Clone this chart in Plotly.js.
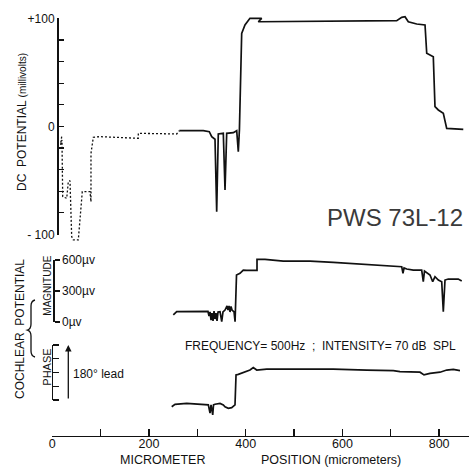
<!DOCTYPE html>
<html>
<head>
<meta charset="utf-8">
<script src="https://cdn.plot.ly/plotly-3.0.1.min.js"></script>
<style>html,body{margin:0;padding:0;background:#fff}#chart{width:469px;height:469px}</style>
</head>
<body>
<div id="chart"></div>
<script>
// ---- Data (micrometer position in µm) ----
// DC potential, dashed part (mV)
const dcDashedX = [19.4, 17, 20, 21.5, 29.8, 33.1, 36.6, 40.1, 43.4, 53.8, 62, 78, 80, 80, 81, 80, 84.8, 98.7, 177.9, 177.9, 257.3, 262.7];
const dcDashedY = [-9.5, -17, -12.6, -65, -66.5, -51.2, -50.2, -102, -105, -105, -60.4, -60.4, -69.7, -31, -40, -25, -10.1, -9.5, -11, -6.4, -7, -4];
// DC potential, solid part (mV)
const dcX = [262.7, 312.3, 324.7, 329.7, 336.5, 340, 343.3, 353.7, 357.2, 360.7, 374.4, 381.4, 384.7, 387, 391.7, 398.5, 408.8, 433.1, 426.1, 574.4, 712.3, 722.7, 729.5, 736.3, 753.7, 770.9, 774.4, 788, 791.5, 798.4, 808.7, 815.7, 850];
const dcY = [-4, -4, -4.9, -9.5, -11.9, -78.9, -7, -6.4, -58.8, -6.4, -5.8, -4, -23.4, -3.3, 86.1, 93.8, 100, 100, 96.8, 97.5, 97.8, 100.9, 101.5, 96.8, 94.7, 93.8, 67.6, 64.5, 18.2, 15.2, 12.1, -1.8, -2.7];
// Cochlear potential magnitude (µV)
const magX = [250.3, 257.3, 322, 324.1, 326.2, 328.3, 330.3, 332.4, 334.5, 336.6, 338.6, 340.7, 342.8, 346.9, 350.4, 353, 357.2, 361.4, 363.4, 365.5, 367.6, 369.6, 371.7, 375.9, 378, 381, 388.2, 395, 402.1, 423.4, 423.4, 439.9, 477.8, 533, 581.2, 615.7, 650.3, 684.6, 722.7, 725.3, 727.5, 733, 746.7, 764, 767.3, 769.8, 781.2, 786.8, 791.5, 798.4, 805.4, 808.7, 812.2, 819, 839.7, 846.8];
const magY = [68, 100, 102, 58, 97, 19, 87, 10, 106, 29, 87, 10, 97, 100, 3, 97, 116, 155, 116, 155, 97, 150, 116, 97, 3, 455, 471, 503, 500, 500, 607, 607, 590, 590, 578, 568, 558, 545, 535, 471, 523, 513, 503, 503, 390, 494, 455, 390, 438, 406, 390, 100, 406, 416, 416, 397];
// Cochlear potential phase (degrees, lead)
const phX = [247, 253.8, 278, 312.3, 322.7, 326.2, 328.3, 331.8, 333.4, 336.5, 346.9, 353.7, 357.2, 364, 371, 377.9, 380, 384.7, 395, 408.9, 415.7, 422.8, 443.4, 512.3, 581.2, 650.3, 705.3, 719.1, 760.5, 768.8, 781.2, 801.9, 815.7, 829.4, 843.2];
const phY = [-22, -14, -11, -14, -16, -43, -16, -49, -16, -14, -11, -16, -22, -27, -25, -16, 82, 84, 91, 98, 106, 98, 101, 101, 101, 98, 96, 93, 91, 82, 87, 91, 98, 100, 96];
// Tick labels
const xTickVals = [0, 100, 200, 300, 400, 500, 600, 700, 800];
const xTickText = ['0', '', '200', '', '400', '', '600', '', '800'];
const dcTickVals = [-100, -80, -60, -40, -20, 0, 20, 40, 60, 80, 100];
const dcTickText = ['- 100', '', '', '', '', '0', '', '', '', '', '+100'];
const magTickVals = [0, 300, 600];
const magTickText = ['0µv', '300µv', '600µv'];
const phTickVals = [0, 45, 90, 135, 180];

// ---- Layout helpers (pixel -> paper) ----
const W = 469, H = 469;
const fx = p => p / W;
const fy = p => 1 - p / H;
const FONT = 'Liberation Sans, Arial, sans-serif';
const INK = '#111';

const lineStyle = {color: INK, width: 1.7};
const traces = [
  {x: dcDashedX, y: dcDashedY, xaxis: 'x', yaxis: 'y', mode: 'lines', line: {color: INK, width: 1.3, dash: '2px,2px'}, hoverinfo: 'skip'},
  {x: dcX, y: dcY, xaxis: 'x', yaxis: 'y', mode: 'lines', line: lineStyle, hoverinfo: 'skip'},
  {x: magX, y: magY, xaxis: 'x', yaxis: 'y2', mode: 'lines', line: lineStyle, hoverinfo: 'skip'},
  {x: phX, y: phY, xaxis: 'x', yaxis: 'y3', mode: 'lines', line: lineStyle, hoverinfo: 'skip'},
  {x: [], y: [], xaxis: 'x', yaxis: 'y4', mode: 'lines', hoverinfo: 'skip'},
  {x: [], y: [], xaxis: 'x', yaxis: 'y5', mode: 'lines', hoverinfo: 'skip'},
  {x: [], y: [], xaxis: 'x', yaxis: 'y6', mode: 'lines', hoverinfo: 'skip'}
];

const hidden = {showline: false, showgrid: false, zeroline: false, showticklabels: false, ticks: '', anchor: 'free', position: 0.12};
const pxRange = (p0, p1, v0px, scale) => [(v0px - p1) / scale, (v0px - p0) / scale];

function ann(text, x, y, size, extra) {
  return Object.assign({text: text, x: fx(x), y: fy(y), xref: 'paper', yref: 'paper', showarrow: false,
    xanchor: 'center', yanchor: 'middle', font: {size: size, family: FONT, color: INK}}, extra || {});
}

const layout = {
  width: W, height: H,
  margin: {l: 0, r: 0, t: 0, b: 0},
  paper_bgcolor: '#fff', plot_bgcolor: 'rgba(0,0,0,0)',
  showlegend: false,
  font: {family: FONT, color: INK},
  xaxis: {
    domain: [fx(52.3), 1], range: [0, (W - 52.3) / 0.4835],
    anchor: 'free', position: fy(435.7),
    showline: true, linecolor: INK, linewidth: 1.5, showgrid: false, zeroline: false,
    ticks: 'inside', ticklen: 7, tickwidth: 1.3, tickcolor: INK, ticklabelstandoff: -4,
    tickvals: xTickVals, ticktext: xTickText, tickfont: {size: 12.5, family: FONT, color: INK}
  },
  yaxis: Object.assign({}, hidden, {domain: [fy(245), fy(10)], range: pxRange(10, 245, 126.4, 1.081)}),
  yaxis2: Object.assign({}, hidden, {domain: [fy(330), fy(250)], range: pxRange(250, 330, 322, 0.1033)}),
  yaxis3: Object.assign({}, hidden, {domain: [fy(425), fy(335)], range: pxRange(335, 425, 400, 0.3056)}),
  yaxis4: {
    domain: [fy(234.5), fy(18.3)], range: [-100, 100], anchor: 'free', position: fx(57),
    showline: true, linecolor: INK, linewidth: 1.5, showgrid: false, zeroline: false,
    ticks: 'inside', ticklen: 5, tickwidth: 1.2, tickcolor: INK,
    tickvals: dcTickVals, ticktext: dcTickText, tickfont: {size: 12, family: FONT, color: INK}
  },
  yaxis5: {
    domain: [fy(322), fy(260)], range: [0, 600], anchor: 'free', position: fx(53.3), side: 'right',
    showline: true, linecolor: INK, linewidth: 1.3, showgrid: false, zeroline: false,
    ticks: 'outside', ticklen: 5, tickwidth: 1.2, tickcolor: INK,
    tickvals: magTickVals, ticktext: magTickText, tickfont: {size: 12, family: FONT, color: INK}
  },
  yaxis6: {
    domain: [fy(400), fy(345)], range: [0, 180], anchor: 'free', position: fx(51.7), side: 'right',
    showline: true, linecolor: INK, linewidth: 1.3, showgrid: false, zeroline: false,
    ticks: 'outside', ticklen: 6, tickwidth: 1.2, tickcolor: INK,
    tickvals: phTickVals, showticklabels: false
  },
  annotations: [
    ann("DC  POTENTIAL <span style='font-size:10px'>(millivolts)</span>", 22, 122, 12, {textangle: -90}),
    ann('COCHLEAR  POTENTIAL', 20, 329, 12, {textangle: -90}),
    ann('MAGNITUDE', 46.7, 286, 10, {textangle: -90}),
    ann('PHASE', 46.7, 367, 11, {textangle: -90}),
    ann('180° lead', 98.5, 374, 12),
    {text: '', x: fx(68.3), y: fy(345), xref: 'paper', yref: 'paper', showarrow: true, ax: 0, ay: 55, arrowhead: 2, arrowsize: 1, arrowwidth: 1.3, arrowcolor: INK},
    ann('PWS 73L-12', 395, 218, 24, {font: {size: 24, family: FONT, color: '#3a3a3a', weight: 300}}),
    ann('FREQUENCY= 500Hz  ;  INTENSITY= 70 dB  SPL', 320, 346, 12),
    ann('MICROMETER', 162.5, 460, 12.5),
    ann('POSITION (micrometers)', 330.5, 460, 12.5)
  ],
  shapes: [
    {type: 'path', xref: 'paper', yref: 'paper', line: {color: INK, width: 1.3},
     path: 'M ' + fx(35) + ',' + fy(300) + ' Q ' + fx(31) + ',' + fy(301) + ' ' + fx(31) + ',' + fy(306) +
           ' L ' + fx(31) + ',' + fy(324) + ' Q ' + fx(31) + ',' + fy(329) + ' ' + fx(27.5) + ',' + fy(330) +
           ' Q ' + fx(31) + ',' + fy(331) + ' ' + fx(31) + ',' + fy(336) +
           ' L ' + fx(31) + ',' + fy(351) + ' Q ' + fx(31) + ',' + fy(356) + ' ' + fx(35) + ',' + fy(357)}
  ]
};

Plotly.newPlot('chart', traces, layout, {staticPlot: true, displayModeBar: false});
</script>
</body>
</html>
